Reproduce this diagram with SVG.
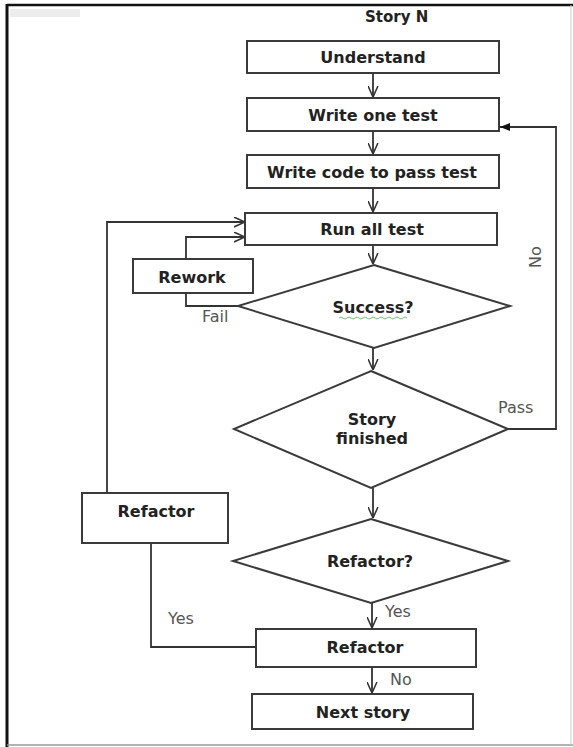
<svg xmlns="http://www.w3.org/2000/svg" width="573" height="747" viewBox="0 0 573 747">
<style>
.box{fill:#fff;stroke:#3a3a3a;stroke-width:2}
.dia{fill:#fff;stroke:#3a3a3a;stroke-width:2}
.t{font-family:"DejaVu Sans","Liberation Sans",sans-serif;font-weight:bold;font-size:16px;fill:#222;text-anchor:middle}
.lbl{font-family:"DejaVu Sans","Liberation Sans",sans-serif;font-size:16px;fill:#555}
.c{fill:none;stroke:#333;stroke-width:1.8}
</style>
<defs>
<marker id="open" viewBox="0 0 10 10" refX="10" refY="5" markerWidth="11" markerHeight="11" markerUnits="userSpaceOnUse" orient="auto">
<path d="M0,0.5 L10,5 L0,9.5" fill="none" stroke="#333" stroke-width="1.4"/>
</marker>
<marker id="solid" viewBox="0 0 10 10" refX="10" refY="5" markerWidth="10" markerHeight="10" markerUnits="userSpaceOnUse" orient="auto">
<path d="M0,1 L10,5 L0,9 z" fill="#111"/>
</marker>
</defs>
<rect x="0" y="0" width="573" height="747" fill="#fff"/>
<!-- frame -->
<rect x="10" y="9" width="70" height="8" fill="#ececec"/>
<line x1="7" y1="5" x2="573" y2="5" stroke="#111" stroke-width="2.5"/>
<line x1="7" y1="4" x2="7" y2="747" stroke="#111" stroke-width="3"/>
<line x1="7" y1="745" x2="573" y2="745" stroke="#999" stroke-width="1.5"/>
<line x1="571" y1="5" x2="571" y2="745" stroke="#ccc" stroke-width="1"/>
<text x="365" y="22" class="t" style="text-anchor:start;font-size:15px">Story N</text>

<g id="connectors">
<path class="c" d="M373,73 V97" marker-end="url(#open)"/>
<path class="c" d="M373,131 V154" marker-end="url(#open)"/>
<path class="c" d="M373,188 V212" marker-end="url(#open)"/>
<path class="c" d="M373,245 V264" marker-end="url(#open)"/>
<path class="c" d="M373,348 V370" marker-end="url(#open)"/>
<path class="c" d="M373,488 V518" marker-end="url(#open)"/>
<path class="c" d="M372,603 V628" marker-end="url(#open)"/>
<path class="c" d="M372,667 V693" marker-end="url(#open)"/>
<path class="c" d="M238,306 H186 V293"/>
<path class="c" d="M186,259 V237 H245" marker-end="url(#open)"/>
<path class="c" d="M257,647 H151 V543"/>
<path class="c" d="M107,493 V222 H245" marker-end="url(#open)"/>
<path class="c" d="M508,429 H556 V127 H500" marker-end="url(#solid)"/>
<text class="lbl" x="202" y="322">Fail</text>
<text class="lbl" x="498" y="413">Pass</text>
<text class="lbl" transform="translate(541,257) rotate(-90)" text-anchor="middle">No</text>
<text class="lbl" x="168" y="624">Yes</text>
<text class="lbl" x="385" y="617">Yes</text>
<text class="lbl" x="390" y="685">No</text>
</g>

<g id="understand">
<rect class="box" x="247" y="41" width="252" height="32"/>
<text class="t" x="373" y="63">Understand</text>
</g>
<g id="write-test">
<rect class="box" x="247" y="98" width="252" height="33"/>
<text class="t" x="373" y="121">Write one test</text>
</g>
<g id="write-code">
<rect class="box" x="247" y="155" width="252" height="33"/>
<text class="t" x="372" y="178">Write code to pass test</text>
</g>
<g id="run-all">
<rect class="box" x="245" y="213" width="252" height="32"/>
<text class="t" x="372" y="235">Run all test</text>
</g>
<g id="rework">
<rect class="box" x="133" y="259" width="120" height="34"/>
<text class="t" x="192" y="283">Rework</text>
</g>
<g id="success">
<polygon class="dia" points="374,265 510,306 374,348 238,306"/>
<text class="t" x="373" y="313">Success?</text>
<path d="M339,318 q2,-2 4,0 t4,0 t4,0 t4,0 t4,0 t4,0 t4,0 t4,0 t4,0 t4,0 t4,0 t4,0 t4,0 t4,0 t4,0 t4,0 t4,0" fill="none" stroke="#7ab87a" stroke-width="1"/>
</g>
<g id="story-finished">
<polygon class="dia" points="371,371 508,429 371,488 234,429"/>
<text class="t" x="372" y="425">Story</text>
<text class="t" x="372" y="444">finished</text>
</g>
<g id="refactor-q">
<polygon class="dia" points="371,519 508,561 371,603 233,561"/>
<text class="t" x="370" y="567">Refactor?</text>
</g>
<g id="refactor-left">
<rect class="box" x="82" y="493" width="146" height="50"/>
<text class="t" x="156" y="517">Refactor</text>
</g>
<g id="refactor-bottom">
<rect class="box" x="256" y="629" width="220" height="38"/>
<text class="t" x="365" y="653">Refactor</text>
</g>
<g id="next-story">
<rect class="box" x="252" y="694" width="221" height="35"/>
<text class="t" x="363" y="718">Next story</text>
</g>
</svg>
